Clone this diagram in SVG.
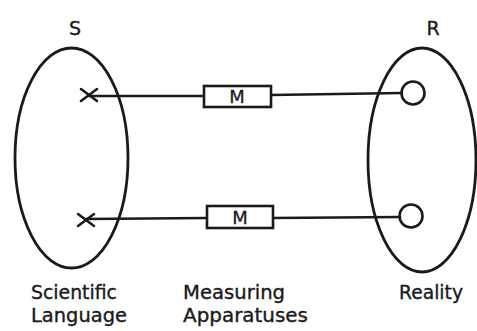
<svg xmlns="http://www.w3.org/2000/svg" width="477" height="331" viewBox="0 0 477 331">
<style>
.ln{stroke:#1a1a1a;stroke-width:2.6;fill:none;stroke-linecap:round}
.el{stroke:#1a1a1a;stroke-width:2.8;fill:none}
.bx{stroke:#1a1a1a;stroke-width:2.6;fill:#fff}
.t{font-family:"DejaVu Sans",sans-serif;font-size:19px;fill:#1a1a1a;stroke:#1a1a1a;stroke-width:0.35}
.m{font-family:"DejaVu Sans",sans-serif;font-size:18px;fill:#1a1a1a;text-anchor:middle;stroke:#1a1a1a;stroke-width:0.3}
</style>
<rect width="477" height="331" fill="#fff"/>
<g id="S">
<ellipse class="el" cx="71.5" cy="158" rx="56.5" ry="110"/>
<text class="t" x="75" y="35" text-anchor="middle">S</text>
<text class="t" x="31" y="299" textLength="86" lengthAdjust="spacingAndGlyphs">Scientific</text>
<text class="t" x="31" y="322" textLength="96" lengthAdjust="spacingAndGlyphs">Language</text>
</g>
<g id="R">
<ellipse class="el" cx="422" cy="160" rx="54" ry="112"/>
<text class="t" x="433" y="35" text-anchor="middle">R</text>
<text class="t" x="399" y="299" textLength="64" lengthAdjust="spacingAndGlyphs">Reality</text>
</g>
<g id="connectors">
<path class="ln" d="M89 96 L204 96 M271 95 L402 93"/>
<path class="ln" d="M86 219 L207 218 M273 218 L400 217"/>
</g>
<g id="x1"><path class="ln" d="M81 89 L97 101 M81 101 L97 89"/></g>
<g id="x2"><path class="ln" d="M78 214 L94 226 M78 226 L94 214"/></g>
<g id="o1"><circle class="ln" cx="413" cy="93" r="11.5"/></g>
<g id="o2"><circle class="ln" cx="411" cy="216" r="11.5"/></g>
<g id="M1">
<rect class="bx" x="204" y="86" width="67" height="21"/>
<text class="m" x="237" y="103">M</text>
</g>
<g id="M2">
<rect class="bx" x="207" y="206" width="66" height="22"/>
<text class="m" x="240" y="224">M</text>
</g>
<g id="MA">
<text class="t" x="183" y="299" textLength="102" lengthAdjust="spacingAndGlyphs">Measuring</text>
<text class="t" x="183" y="322" textLength="125" lengthAdjust="spacingAndGlyphs">Apparatuses</text>
</g>
</svg>
